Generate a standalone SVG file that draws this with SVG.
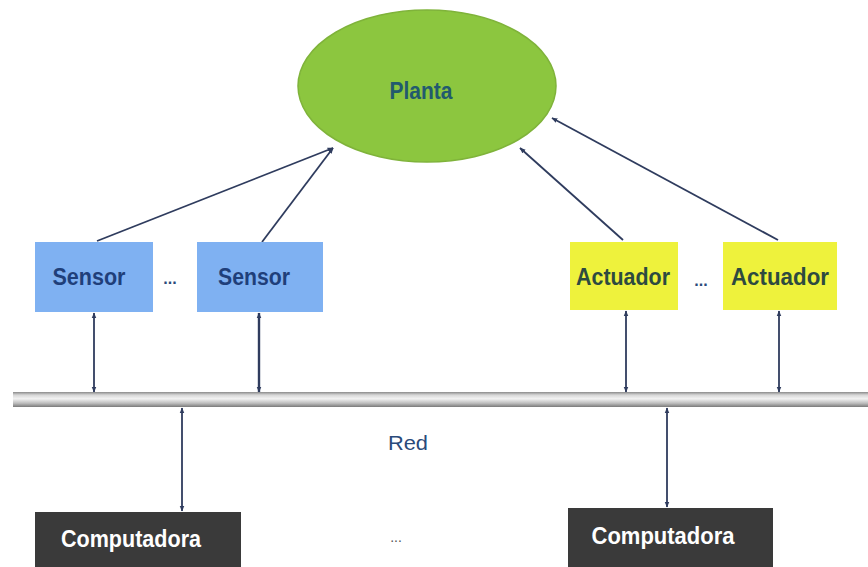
<svg xmlns="http://www.w3.org/2000/svg" width="868" height="567" viewBox="0 0 868 567">
<style>
.lbl{font-family:"Liberation Sans",Arial,sans-serif;font-weight:bold;}
.sensor{fill:#7fb1f2;}
.act{fill:#eef23c;}
.comp{fill:#3a3a3a;}
.conn{stroke:#2f3c5e;stroke-width:1.8;fill:none;}
</style>
<defs>
<marker id="ah" viewBox="0 0 10 10" refX="9" refY="5" markerWidth="6" markerHeight="6" orient="auto-start-reverse" markerUnits="userSpaceOnUse">
<path d="M0,1 L10,5 L0,9 Z" fill="#2f3c5e"/>
</marker>
<linearGradient id="bus" x1="0" y1="0" x2="0" y2="1">
<stop offset="0" stop-color="#8a8a8a"/>
<stop offset="0.2" stop-color="#d6d6d6"/>
<stop offset="0.45" stop-color="#f2f2f2"/>
<stop offset="0.75" stop-color="#bdbdbd"/>
<stop offset="1" stop-color="#7a7a7a"/>
</linearGradient>
</defs>
<rect width="868" height="567" fill="#ffffff"/>

<g id="bus-red">
<rect x="13" y="392" width="855" height="15" fill="url(#bus)"/>
<text x="408" y="450" text-anchor="middle" font-family="Liberation Sans, Arial, sans-serif" font-size="21" fill="#2a4a7a" textLength="40" lengthAdjust="spacingAndGlyphs">Red</text>
</g>

<g id="connectors">
<line class="conn" x1="97" y1="241" x2="333" y2="148" marker-end="url(#ah)"/>
<line class="conn" x1="262" y1="242" x2="333" y2="148" marker-end="url(#ah)"/>
<line class="conn" x1="623" y1="240" x2="520" y2="148" marker-end="url(#ah)"/>
<line class="conn" x1="778" y1="240" x2="552" y2="118" marker-end="url(#ah)"/>
<line class="conn" x1="94" y1="313" x2="94" y2="392" marker-start="url(#ah)" marker-end="url(#ah)"/>
<line class="conn" x1="259" y1="313" x2="259" y2="392" marker-start="url(#ah)" marker-end="url(#ah)" style="stroke-width:2.4"/>
<line class="conn" x1="626" y1="311" x2="626" y2="392" marker-start="url(#ah)" marker-end="url(#ah)"/>
<line class="conn" x1="779" y1="311" x2="779" y2="392" marker-start="url(#ah)" marker-end="url(#ah)"/>
<line class="conn" x1="182" y1="408" x2="182" y2="511" marker-start="url(#ah)" marker-end="url(#ah)"/>
<line class="conn" x1="667" y1="408" x2="667" y2="507" marker-start="url(#ah)" marker-end="url(#ah)"/>
</g>

<g id="planta">
<ellipse cx="427" cy="86" rx="129" ry="76" fill="#8cc63f" stroke="#7fb33a" stroke-width="1.5"/>
<text class="lbl" x="421" y="99" text-anchor="middle" font-size="23" fill="#225a6e" textLength="63" lengthAdjust="spacingAndGlyphs">Planta</text>
</g>

<g id="sensor1">
<rect class="sensor" x="35" y="242" width="118" height="70"/>
<text class="lbl" x="89" y="285" text-anchor="middle" font-size="23" fill="#1f3f7a" textLength="73" lengthAdjust="spacingAndGlyphs">Sensor</text>
</g>
<text class="lbl" x="170" y="284" text-anchor="middle" font-size="16" fill="#2a4a7a">...</text>
<g id="sensor2">
<rect class="sensor" x="197" y="242" width="126" height="70"/>
<text class="lbl" x="254" y="285" text-anchor="middle" font-size="23" fill="#1f3f7a" textLength="72" lengthAdjust="spacingAndGlyphs">Sensor</text>
</g>

<g id="actuador1">
<rect class="act" x="570" y="242" width="108" height="68"/>
<text class="lbl" x="623" y="285" text-anchor="middle" font-size="23" fill="#2d4a40" textLength="94" lengthAdjust="spacingAndGlyphs">Actuador</text>
</g>
<text class="lbl" x="701" y="286" text-anchor="middle" font-size="16" fill="#2a4a7a">...</text>
<g id="actuador2">
<rect class="act" x="723" y="242" width="114" height="68"/>
<text class="lbl" x="780" y="285" text-anchor="middle" font-size="23" fill="#2d4a40" textLength="98" lengthAdjust="spacingAndGlyphs">Actuador</text>
</g>

<g id="computadora1">
<rect class="comp" x="35" y="512" width="206" height="55"/>
<text class="lbl" x="131" y="547" text-anchor="middle" font-size="24" fill="#ffffff" textLength="140" lengthAdjust="spacingAndGlyphs">Computadora</text>
</g>
<text x="396" y="542" text-anchor="middle" font-family="Liberation Sans, Arial, sans-serif" font-size="14" fill="#555555">...</text>
<g id="computadora2">
<rect class="comp" x="568" y="508" width="205" height="59"/>
<text class="lbl" x="663" y="544" text-anchor="middle" font-size="24" fill="#ffffff" textLength="143" lengthAdjust="spacingAndGlyphs">Computadora</text>
</g>
</svg>
